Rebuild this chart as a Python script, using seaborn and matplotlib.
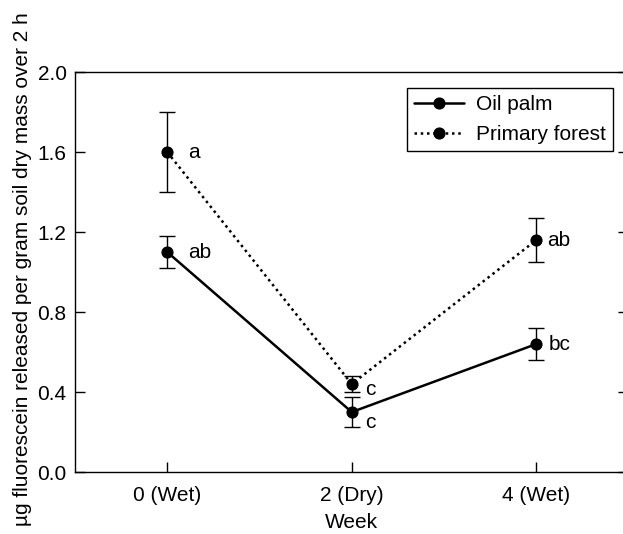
import matplotlib
matplotlib.use("Agg")
import matplotlib.pyplot as plt
import seaborn as sns
import pandas as pd

sns.set_style("ticks")
plt.rcParams['font.family'] = ['Liberation Sans', 'DejaVu Sans']
plt.rcParams['text.color'] = 'black'
plt.rcParams['axes.labelcolor'] = 'black'

weeks = [0, 2, 4]
week_labels = ["0 (Wet)", "2 (Dry)", "4 (Wet)"]
oil_palm = [1.10, 0.30, 0.64]
oil_palm_err = [0.08, 0.075, 0.08]
primary_forest = [1.60, 0.44, 1.16]
primary_forest_err = [0.20, 0.04, 0.11]
oil_palm_letters = ["ab", "c", "bc"]
forest_letters = ["a", "c", "ab"]

df = pd.DataFrame({
    "Week": weeks * 2,
    "value": oil_palm + primary_forest,
    "Habitat": ["Oil palm"] * 3 + ["Primary forest"] * 3,
})

fig = plt.figure(figsize=(6.23, 5.34), dpi=100)
ax = fig.add_axes([0.1204, 0.116, 0.8884, 0.749])

sns.lineplot(data=df, x="Week", y="value", hue="Habitat", style="Habitat",
             palette=["black", "black"], dashes={"Oil palm": "", "Primary forest": (1, 1.5)},
             markers={"Oil palm": "o", "Primary forest": "o"}, markersize=8,
             markeredgecolor="black", linewidth=1.8, ax=ax)
for line in ax.lines:
    line.set_zorder(3)

ax.errorbar(weeks, oil_palm, yerr=oil_palm_err, fmt="none", ecolor="black",
            elinewidth=1, capsize=5.5, capthick=1, zorder=2)
ax.errorbar(weeks, primary_forest, yerr=primary_forest_err, fmt="none", ecolor="black",
            elinewidth=1, capsize=5.5, capthick=1, zorder=2)

# significance letters (offsets in weeks / y units)
op_off = [(0.23, 0.0), (0.14, -0.05), (0.13, 0.0)]
pf_off = [(0.23, 0.0), (0.14, -0.025), (0.12, 0.0)]
for i in range(3):
    ax.text(weeks[i] + op_off[i][0], oil_palm[i] + op_off[i][1], oil_palm_letters[i],
            fontsize=15, va="center", ha="left")
    ax.text(weeks[i] + pf_off[i][0], primary_forest[i] + pf_off[i][1], forest_letters[i],
            fontsize=15, va="center", ha="left")

ax.set_xlim(-1, 5)
ax.set_ylim(0, 2.0)
ax.set_xticks(weeks)
ax.set_xticklabels(week_labels)
ax.set_yticks([0.0, 0.4, 0.8, 1.2, 1.6, 2.0])
ax.set_yticklabels(["0.0", "0.4", "0.8", "1.2", "1.6", "2.0"])
ax.tick_params(direction="in", length=7, width=1, labelsize=15, pad=6,
               right=True, top=False, colors="black")
ax.tick_params(axis="x", pad=10)
for s in ax.spines.values():
    s.set_visible(True)
    s.set_linewidth(1)
    s.set_color("black")

ax.set_xlabel("Week", fontsize=15, labelpad=6)
ax.set_ylabel("µg fluorescein released per gram soil dry mass over 2 h", fontsize=15)
ax.yaxis.set_label_coords(-0.078, 0.5075)

leg = ax.legend(loc="upper right", bbox_to_anchor=(0.972, 0.96), fontsize=15,
                frameon=True, fancybox=False, edgecolor="black", framealpha=1,
                handlelength=2.4, handletextpad=0.55, borderpad=0.35,
                labelspacing=0.5, borderaxespad=0)
leg.get_frame().set_linewidth(1)

fig.savefig("out.png", dpi=100)
